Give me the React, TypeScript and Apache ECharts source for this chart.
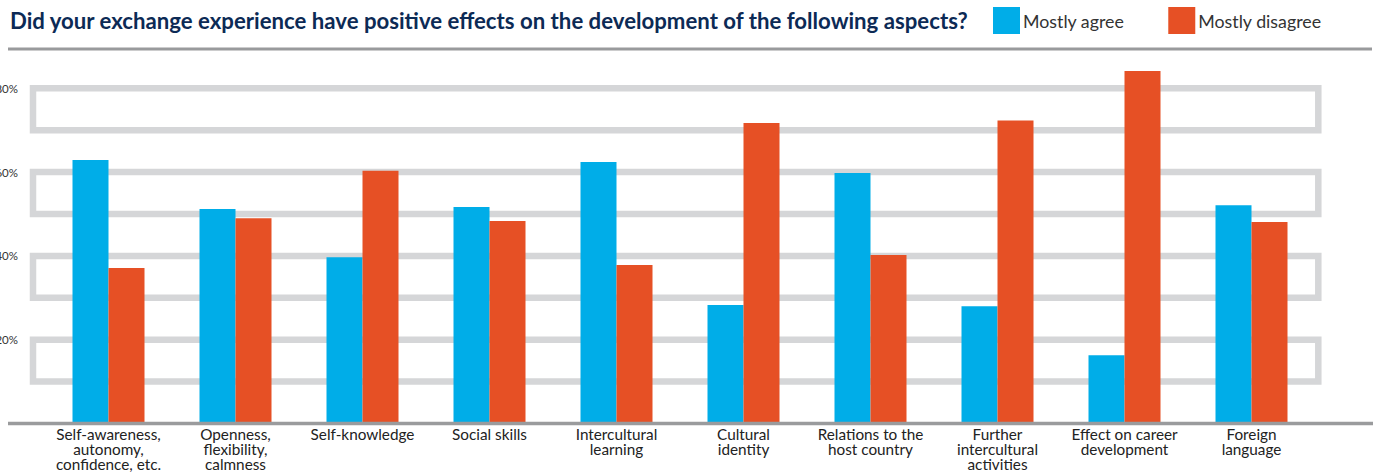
import React, { useEffect, useRef } from "react";
import * as echarts from "echarts";

const categories = [
  "Self-awareness,\nautonomy,\nconfidence, etc.",
  "Openness,\nflexibility,\ncalmness",
  "Self-knowledge",
  "Social skills",
  "Intercultural\nlearning",
  "Cultural\nidentity",
  "Relations to the\nhost country",
  "Further\nintercultural\nactivities",
  "Effect on career\ndevelopment",
  "Foreign\nlanguage",
];

const mostlyAgree = [62.9, 51.2, 39.7, 51.7, 62.4, 28.3, 59.8, 28.0, 16.3, 52.1];
const mostlyDisagree = [37.1, 49.0, 60.3, 48.3, 37.8, 71.7, 40.2, 72.3, 84.1, 48.1];

// decorative bands: [categoryIndex, low, high]
const bands = [
  [0, 10, 20],
  [0, 30, 40],
  [0, 50, 60],
  [0, 70, 80],
];

const yLabelTicks = [20, 40, 60, 80];

const TITLE =
  "Did your exchange experience have positive effects on the development of the following aspects?";

export default function App() {
  const ref = useRef<HTMLDivElement>(null);

  useEffect(() => {
    if (!ref.current) return;
    const chart = echarts.init(ref.current, null, { renderer: "svg" });
    const font = "Lato";
    chart.setOption({
      animation: false,
      backgroundColor: "#ffffff",
      title: {
        text: TITLE,
        left: 10,
        top: 9,
        padding: 0,
        textStyle: {
          fontFamily: font,
          fontWeight: "bold",
          fontSize: 22.2,
          color: "#0c2a55",
        },
      },
      legend: {
        data: ["Mostly agree", "Mostly disagree"],
        left: 993,
        top: 7,
        padding: 0,
        itemWidth: 27,
        itemHeight: 27,
        itemGap: 44,
        icon: "rect",
        textStyle: {
          fontFamily: font,
          fontSize: 17.8,
          color: "#333333",
          padding: [0, 0, 0, -2],
        },
      },
      graphic: [
        {
          type: "line",
          shape: { x1: 8, y1: 49, x2: 1372, y2: 49 },
          style: { stroke: "#999a9c", lineWidth: 3 },
          silent: true,
        },
      ],
      grid: {
        left: 45,
        right: 61,
        top: 46.4,
        bottom: 48.5,
        containLabel: false,
        outerBoundsMode: "none",
      },
      xAxis: {
        type: "category",
        data: categories,
        axisLine: { show: false },
        axisTick: { show: false },
        axisLabel: {
          interval: 0,
          margin: 3,
          fontFamily: font,
          fontSize: 15.3,
          lineHeight: 15,
          color: "#222222",
        },
        splitLine: { show: false },
      },
      yAxis: {
        type: "value",
        min: 0,
        max: 90,
        interval: 10,
        axisLine: { show: false },
        axisTick: { show: false },
        splitLine: { show: false },
        axisLabel: {
          margin: 27,
          fontFamily: font,
          fontSize: 11.5,
          color: "#333333",
          padding: [7, 0, 0, 0],
          formatter: (v: number) => (yLabelTicks.includes(v) ? v + "%" : ""),
        },
      },
      series: [
        {
          type: "custom",
          name: "bands",
          z: 1,
          silent: true,
          data: bands,
          encode: { x: 0, y: [1, 2] },
          renderItem: (params: any, api: any) => {
            const yLow = api.coord([0, api.value(1)])[1];
            const yHigh = api.coord([0, api.value(2)])[1];
            const cs = params.coordSys;
            const x0 = cs.x - 12;
            const x1 = cs.x + cs.width + 3.3;
            return {
              type: "rect",
              shape: { x: x0, y: yHigh, width: x1 - x0, height: yLow - yHigh },
              style: { fill: "none", stroke: "#d5d6d8", lineWidth: 6.5 },
            };
          },
        },
        {
          type: "bar",
          name: "Mostly agree",
          data: mostlyAgree,
          barWidth: 36,
          barGap: "0%",
          z: 2,
          itemStyle: { color: "#00ade8" },
        },
        {
          type: "bar",
          name: "Mostly disagree",
          data: mostlyDisagree,
          barWidth: 36,
          barGap: "0%",
          z: 2,
          itemStyle: { color: "#e65025" },
        },
        {
          type: "custom",
          name: "baseline",
          z: 3,
          silent: true,
          data: [[0, 0]],
          encode: { x: 0, y: 1 },
          renderItem: (params: any, api: any) => {
            const y = api.coord([0, 0])[1];
            return {
              type: "line",
              shape: { x1: 8, y1: y, x2: 1373, y2: y },
              style: { stroke: "#9a9b9d", lineWidth: 3.3 },
            };
          },
        },
      ],
    });
    return () => chart.dispose();
  }, []);

  return (
    <div
      ref={ref}
      style={{ position: "fixed", left: 0, top: 0, width: 1376, height: 472 }}
    />
  );
}
